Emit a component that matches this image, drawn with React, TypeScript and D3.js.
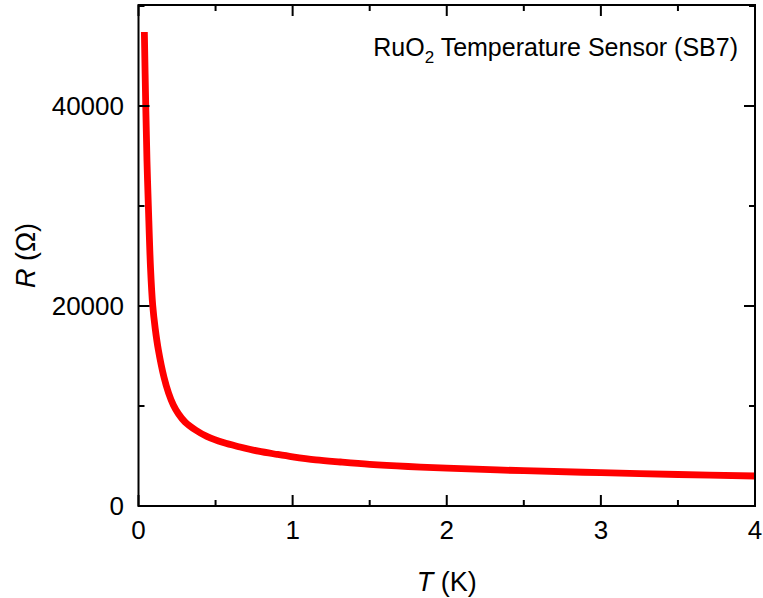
import React, { useRef, useEffect } from 'react';
import * as d3 from 'd3';

const temperatureK = [0.038, 0.047, 0.055, 0.064, 0.078, 0.092, 0.108, 0.129, 0.165, 0.195, 0.226, 0.26, 0.302, 0.37, 0.443, 0.55, 0.659, 0.778, 0.9, 1.0, 1.15, 1.31, 1.5, 1.75, 2.0, 2.5, 3.0, 3.5, 4.0];
const resistanceOhm = [47400, 40000, 34500, 30000, 23800, 20100, 17800, 15600, 12900, 11300, 10100, 9200, 8400, 7600, 6960, 6340, 5900, 5480, 5160, 4920, 4620, 4400, 4170, 3950, 3780, 3530, 3330, 3150, 3000];

const xTicks = [0, 1, 2, 3, 4];
const xMinorTicks = [0.5, 1.5, 2.5, 3.5];
const yTicks = [0, 20000, 40000];
const yMinorTicks = [10000, 30000, 50000];

const W = 763;
const H = 598;
const margin = { top: 5, right: 8, bottom: 92, left: 138.5 };
const font = '"Liberation Sans", Arial, sans-serif';

const App = () => {
    const svgRef = useRef(null);

    useEffect(() => {
        const svg = d3.select(svgRef.current);
        svg.selectAll('*').remove();

        const x0 = margin.left, x1 = W - margin.right;
        const y0 = H - margin.bottom, y1 = margin.top;

        const x = d3.scaleLinear().domain([0, 4]).range([x0, x1]);
        const y = d3.scaleLinear().domain([0, 50100]).range([y0, y1]);

        const data = temperatureK.map((t, i) => ({ t, r: resistanceOhm[i] }));

        const line = d3.line()
            .x(d => x(d.t))
            .y(d => y(d.r))
            .curve(d3.curveCatmullRom.alpha(0.5));

        // curve
        svg.append('path')
            .datum(data)
            .attr('d', line)
            .attr('fill', 'none')
            .attr('stroke', '#ff0000')
            .attr('stroke-width', 6.8);

        const ticks = svg.append('g').attr('stroke', '#000').attr('stroke-width', 2);

        // inward ticks on all four sides
        const addX = (vals, len) => {
            vals.forEach(v => {
                ticks.append('line').attr('x1', x(v)).attr('x2', x(v)).attr('y1', y0).attr('y2', y0 - len);
                ticks.append('line').attr('x1', x(v)).attr('x2', x(v)).attr('y1', y1).attr('y2', y1 + len);
            });
        };
        const addY = (vals, len) => {
            vals.forEach(v => {
                if (y(v) < y1) return;
                ticks.append('line').attr('x1', x0).attr('x2', x0 + len).attr('y1', y(v)).attr('y2', y(v));
                ticks.append('line').attr('x1', x1).attr('x2', x1 - len).attr('y1', y(v)).attr('y2', y(v));
            });
        };
        addX(xTicks, 11);
        addX(xMinorTicks, 6);
        addY(yTicks, 11);
        addY(yMinorTicks, 6);

        // frame
        svg.append('rect')
            .attr('x', x0).attr('y', y1)
            .attr('width', x1 - x0).attr('height', y0 - y1)
            .attr('fill', 'none')
            .attr('stroke', '#000')
            .attr('stroke-width', 2);

        // tick labels
        svg.append('g').selectAll('text')
            .data(xTicks)
            .enter().append('text')
            .attr('x', d => x(d))
            .attr('y', 539)
            .attr('text-anchor', 'middle')
            .style('font-family', font)
            .style('font-size', '26px')
            .text(d => d);

        svg.append('g').selectAll('text')
            .data(yTicks)
            .enter().append('text')
            .attr('x', 124)
            .attr('y', d => y(d) + 9)
            .attr('text-anchor', 'end')
            .style('font-family', font)
            .style('font-size', '26px')
            .text(d => d);

        // axis titles
        const xt = svg.append('text')
            .attr('x', (x0 + x1) / 2)
            .attr('y', 591)
            .attr('text-anchor', 'middle')
            .style('font-family', font)
            .style('font-size', '27px');
        xt.append('tspan').style('font-style', 'italic').text('T');
        xt.append('tspan').text(' (K)');

        const yt = svg.append('text')
            .attr('transform', `translate(35,${(y0 + y1) / 2}) rotate(-90)`)
            .attr('text-anchor', 'middle')
            .style('font-family', font)
            .style('font-size', '27px');
        yt.append('tspan').style('font-style', 'italic').text('R');
        yt.append('tspan').text(' (Ω)');

        // annotation
        const title = svg.append('text')
            .attr('x', 738)
            .attr('y', 55.5)
            .attr('text-anchor', 'end')
            .style('font-family', font)
            .style('font-size', '25px');
        title.append('tspan').text('RuO');
        title.append('tspan').attr('dy', 7).style('font-size', '17px').text('2');
        title.append('tspan').attr('dy', -7).text(' Temperature Sensor (SB7)');
    }, []);

    return (
        <svg ref={svgRef} width={W} height={H}
            style={{ position: 'absolute', left: 0, top: 0, background: '#fff' }} />
    );
};

export default App;
